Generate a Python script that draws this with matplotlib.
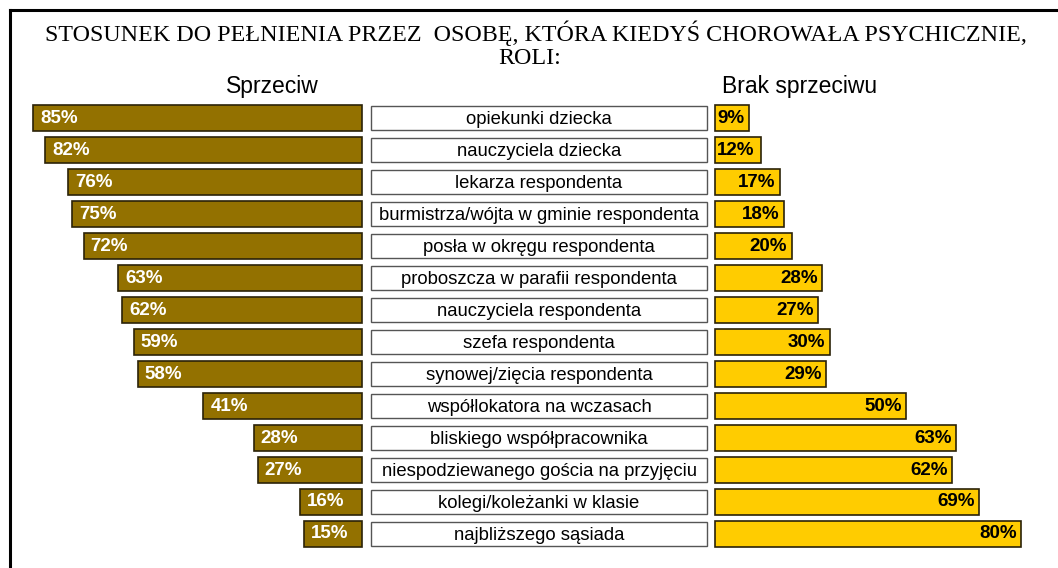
import numpy as np
import matplotlib.pyplot as plt
from matplotlib.lines import Line2D

plt.rcParams['font.family'] = ['Liberation Sans', 'DejaVu Sans']

categories = [
    "opiekunki dziecka",
    "nauczyciela dziecka",
    "lekarza respondenta",
    "burmistrza/wójta w gminie respondenta",
    "posła w okręgu respondenta",
    "proboszcza w parafii respondenta",
    "nauczyciela respondenta",
    "szefa respondenta",
    "synowej/zięcia respondenta",
    "współlokatora na wczasach",
    "bliskiego współpracownika",
    "niespodziewanego gościa na przyjęciu",
    "kolegi/koleżanki w klasie",
    "najbliższego sąsiada",
]
sprzeciw = [85, 82, 76, 75, 72, 63, 62, 59, 58, 41, 28, 27, 16, 15]
brak_sprzeciwu = [9, 12, 17, 18, 20, 28, 27, 30, 29, 50, 63, 62, 69, 80]

title_line1 = "STOSUNEK DO PEŁNIENIA PRZEZ  OSOBĘ, KTÓRA KIEDYŚ CHOROWAŁA PSYCHICZNIE,"
title_line2 = "ROLI:"

W, H = 1058, 568
fig = plt.figure(figsize=(W / 100, H / 100), dpi=100)

y = np.arange(len(categories))
bottom = (H - 550) / H
height = 448 / H

# lewa strona - sprzeciw
axL = fig.add_axes([14 / W, bottom, 348 / W, height])
bars = axL.barh(y, sprzeciw, height=0.8, color="#937100", edgecolor="#2b2208", linewidth=1.2)
for b in bars:
    b.set_clip_on(False)
axL.set_xlim(90, 0)
for i, v in enumerate(sprzeciw):
    axL.annotate(f"{v}%", xy=(v, i), xytext=(5, 0), textcoords="offset points",
                 ha="left", va="center", color="white", fontsize=13.5, fontweight="bold")

# srodek - etykiety
axM = fig.add_axes([371 / W, bottom, 336 / W, height])
boxes = axM.barh(y, [1] * len(categories), height=0.75, color="white", edgecolor="#555555", linewidth=1.0)
for b in boxes:
    b.set_clip_on(False)
axM.set_xlim(0, 1)
for i, c in enumerate(categories):
    axM.text(0.5, i + 0.04, c, ha="center", va="center", fontsize=13.3, color="black")

# prawa strona - brak sprzeciwu
axR = fig.add_axes([715 / W, bottom, 329 / W, height])
bars = axR.barh(y, brak_sprzeciwu, height=0.8, color="#FFCC00", edgecolor="#2b2208", linewidth=1.2)
for b in bars:
    b.set_clip_on(False)
axR.set_xlim(0, 86)
for i, v in enumerate(brak_sprzeciwu):
    if v < 15:
        axR.annotate(f"{v}%", xy=(0, i), xytext=(1.5, 0), textcoords="offset points",
                     ha="left", va="center", color="black", fontsize=13.5, fontweight="bold")
    else:
        axR.annotate(f"{v}%", xy=(v, i), xytext=(-3, 0), textcoords="offset points",
                     ha="right", va="center", color="black", fontsize=13.5, fontweight="bold")

for ax in (axL, axM, axR):
    ax.set_ylim(len(categories) - 0.5, -0.5)
    ax.axis("off")

# tytul i naglowki
fig.text(536 / W, 1 - 33 / H, title_line1, ha="center", va="center",
         fontsize=17.3, family="Liberation Serif")
fig.text(530 / W, 1 - 59 / H, title_line2, ha="center", va="center",
         fontsize=17.3, family="Liberation Serif")
fig.text(272 / W, 1 - 86 / H, "Sprzeciw", ha="center", va="center", fontsize=16.5)
fig.text(800 / W, 1 - 86 / H, "Brak sprzeciwu", ha="center", va="center", fontsize=16.5)

# ramka
fig.add_artist(Line2D([9.5 / W, 1], [1 - 9.5 / H, 1 - 9.5 / H], color="black", lw=2.2))
fig.add_artist(Line2D([9.5 / W, 9.5 / W], [0, 1 - 9.5 / H], color="black", lw=2.2))

plt.savefig("out.png", dpi=100)
